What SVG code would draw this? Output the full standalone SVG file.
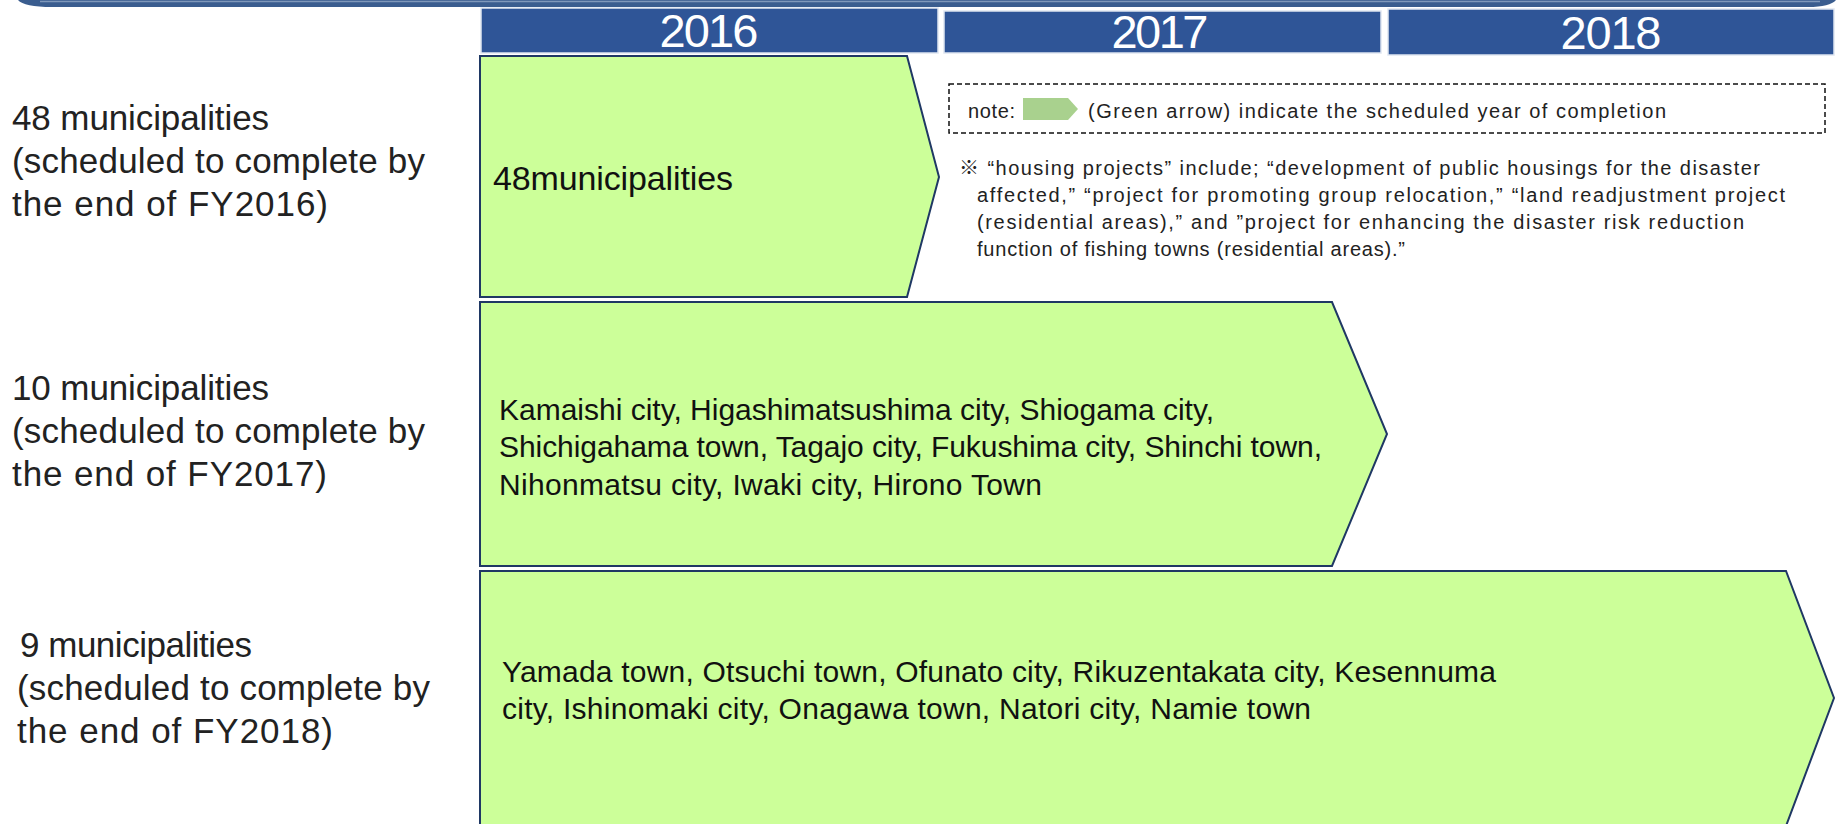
<svg xmlns="http://www.w3.org/2000/svg" width="1839" height="824" viewBox="0 0 1839 824">
<style>
.hdr{fill:#2F5597;stroke:#dfe6f1;stroke-width:1.5}
.hdrt{font-family:"Liberation Sans",Arial,sans-serif;font-size:47px;fill:#ffffff;text-anchor:middle}
.lbl{font-family:"Liberation Sans",Arial,sans-serif;font-size:35px;fill:#222222}
.arr{fill:#CCFF99;stroke:#1F3864;stroke-width:2;stroke-linejoin:miter}
.at{font-family:"Liberation Sans",Arial,sans-serif;font-size:30px;fill:#111111}
.at-big{font-family:"Liberation Sans",Arial,sans-serif;font-size:34px;fill:#111111}
.nt{font-family:"Liberation Sans","Noto Sans CJK JP",sans-serif;font-size:20px;fill:#222222}
</style>
<rect width="1839" height="824" fill="#ffffff"/>
<g id="banner">
<path d="M18 0 Q24 7 52 7 H1808 Q1830 7 1836 0 Z" fill="#3A5D8F"/>
<path d="M40 1.5 H1820" stroke="#7F98BA" stroke-width="1.5" fill="none"/>
</g>
<g id="header-2016"><rect class="hdr" x="481" y="8" width="457" height="45"/><text class="hdrt" x="709" y="47" textLength="99">2016</text></g>
<g id="header-2017"><rect class="hdr" x="944" y="11" width="437" height="42"/><text class="hdrt" x="1160" y="48" textLength="97">2017</text></g>
<g id="header-2018"><rect class="hdr" x="1388" y="9" width="446" height="46"/><text class="hdrt" x="1611" y="49" textLength="101">2018</text></g>
<g id="label-fy2016">
<text class="lbl" x="12" y="130" textLength="257">48 municipalities</text>
<text class="lbl" x="12" y="173" textLength="413">(scheduled to complete by</text>
<text class="lbl" x="12" y="216" textLength="316">the end of FY2016)</text>
</g>
<g id="label-fy2017">
<text class="lbl" x="12" y="400" textLength="257">10 municipalities</text>
<text class="lbl" x="12" y="443" textLength="413">(scheduled to complete by</text>
<text class="lbl" x="12" y="486" textLength="315">the end of FY2017)</text>
</g>
<g id="label-fy2018">
<text class="lbl" x="20" y="657" textLength="232">9 municipalities</text>
<text class="lbl" x="17" y="700" textLength="413">(scheduled to complete by</text>
<text class="lbl" x="17" y="743" textLength="316">the end of FY2018)</text>
</g>
<g id="arrow-fy2016">
<polygon class="arr" points="480,56 907,56 939,177 907,297 480,297"/>
<text class="at-big" x="493" y="190" textLength="240">48municipalities</text>
</g>
<g id="arrow-fy2017">
<polygon class="arr" points="480,302 1332,302 1387,434 1332,566 480,566"/>
<text class="at" x="499" y="420" textLength="715">Kamaishi city, Higashimatsushima city, Shiogama city,</text>
<text class="at" x="499" y="457" textLength="823">Shichigahama town, Tagajo city, Fukushima city, Shinchi town,</text>
<text class="at" x="499" y="495" textLength="543">Nihonmatsu city, Iwaki city, Hirono Town</text>
</g>
<g id="arrow-fy2018">
<polygon class="arr" points="480,571 1786,571 1834,698 1786,826 480,826"/>
<text class="at" x="502" y="682" textLength="994">Yamada town, Otsuchi town, Ofunato city, Rikuzentakata city, Kesennuma</text>
<text class="at" x="502" y="719" textLength="809">city, Ishinomaki city, Onagawa town, Natori city, Namie town</text>
</g>
<g id="note">
<rect x="949" y="84" width="876" height="49" fill="none" stroke="#111111" stroke-width="1.5" stroke-dasharray="5 3"/>
<text class="nt" x="968" y="118" textLength="47">note:</text>
<polygon points="1023,98 1068,98 1078,109 1068,120 1023,120" fill="#A9D18E"/>
<text class="nt" x="1088" y="118" textLength="578">(Green arrow) indicate the scheduled year of completion</text>
</g>
<g id="footnote">
<text class="nt" x="959" y="175" textLength="801">※ “housing projects” include; “development of public housings for the disaster</text>
<text class="nt" x="977" y="202" textLength="808">affected,” “project for promoting group relocation,” “land readjustment project</text>
<text class="nt" x="977" y="229" textLength="767">(residential areas),” and ”project for enhancing the disaster risk reduction</text>
<text class="nt" x="977" y="256" textLength="428">function of fishing towns (residential areas).”</text>
</g>
<g id="connectors"/>
</svg>
